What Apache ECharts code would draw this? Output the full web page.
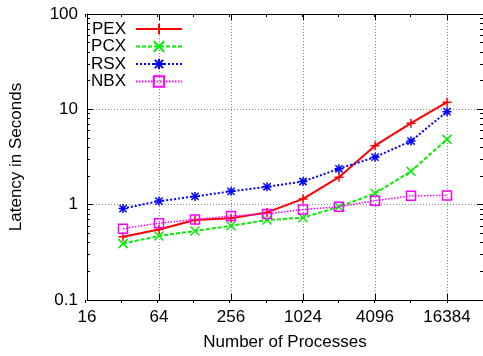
<!DOCTYPE html>
<html>
<head>
<meta charset="utf-8">
<script src="https://cdn.jsdelivr.net/npm/echarts@6/dist/echarts.min.js"></script>
<style>
html,body{margin:0;padding:0;background:#fff;}
#chart{width:483px;height:356px;}
</style>
</head>
<body>
<div id="chart"></div>
<script>
// ---- data ----
const xTicks = ['16','32','64','128','256','512','1024','2048','4096','8192','16384','32768'];
const processes = ['32','64','128','256','512','1024','2048','4096','8192','16384'];
const seriesNames = ['PEX','PCX','RSX','NBX'];
const pex = [0.46, 0.55, 0.69, 0.72, 0.83, 1.15, 1.94, 4.16, 7.16, 11.9];
const pcx = [0.39, 0.47, 0.53, 0.60, 0.69, 0.73, 0.95, 1.31, 2.24, 4.84];
const rsx = [0.91, 1.09, 1.22, 1.38, 1.54, 1.75, 2.38, 3.15, 4.65, 9.46];
const nbx = [0.56, 0.64, 0.70, 0.76, 0.80, 0.89, 0.95, 1.10, 1.24, 1.25];
const yTicks = [0.1, 1, 10, 100];

// ---- styles ----
const FONT = "'Liberation Sans', Arial, Helvetica, sans-serif";
const FS = 17;
const colors = ['#ff0000', '#00ee00', '#0000ff', '#ff00ff'];
const symbols = [
  'path://M0,5L10,5M5,0L5,10',
  'path://M0,0L10,10M0,10L10,0',
  'path://M0,5L10,5M5,0L5,10M1,1L9,9M1,9L9,1',
  'rect'
];
const lineTypes = ['solid', [4, 2], [2, 2], [1.5, 1.5]];
const lineWidths = [2, 2, 2, 1.5];
const values = [pex, pcx, rsx, nbx];
const rowY = [27, 44.5, 62, 79.5];

const isMajor = (i) => i % 2 === 0;
const gridLine = { show: true, lineStyle: { color: '#888', width: 1, type: [1, 2] } };
const gridBox = { left: 85, top: 14, width: 399, height: 289, containLabel: false };

function catAxis(pos, gridIndex, extra) {
  return Object.assign({
    type: 'category', data: xTicks, boundaryGap: false, position: pos, gridIndex: gridIndex,
    axisLine: { show: false }, axisLabel: { show: false },
    axisTick: { show: false }, splitLine: { show: false }
  }, extra);
}

const xAxis = [
  catAxis('bottom', 0, {
    axisLine: { show: true, onZero: false, lineStyle: { color: '#000', width: 1 } },
    axisLabel: { show: true, interval: (i) => isMajor(i) && i < xTicks.length - 1, color: '#000', fontSize: FS, fontFamily: FONT, margin: 9 },
    axisTick: { show: true, inside: true, length: 6, interval: (i) => isMajor(i), lineStyle: { color: '#000' } },
    splitLine: Object.assign({ interval: (i) => isMajor(i) }, gridLine),
    name: 'Number of Processes', nameLocation: 'middle', nameGap: 34,
    nameTextStyle: { color: '#000', fontSize: FS, fontFamily: FONT }
  }),
  catAxis('top', 0, {
    axisLine: { show: true, onZero: false, lineStyle: { color: '#000', width: 1 } },
    axisTick: { show: true, inside: true, length: 6, interval: (i) => isMajor(i), lineStyle: { color: '#000' } }
  }),
  catAxis('bottom', 1, {
    axisTick: { show: true, inside: true, length: 3, interval: 0, lineStyle: { color: '#000' } }
  }),
  catAxis('top', 1, {
    axisTick: { show: true, inside: true, length: 3, interval: 0, lineStyle: { color: '#000' } }
  })
];

function logAxis(pos, extra) {
  return Object.assign({
    type: 'log', logBase: 10, min: yTicks[0], max: yTicks[yTicks.length - 1], position: pos, gridIndex: 0,
    axisLine: { show: true, onZero: false, lineStyle: { color: '#000', width: 1 } },
    axisTick: { show: true, inside: true, length: 6, lineStyle: { color: '#000' } },
    minorTick: { show: true, splitNumber: 9, length: 3, lineStyle: { color: '#000' } },
    axisLabel: { show: false },
    splitLine: { show: false }
  }, extra);
}

const yAxis = [
  logAxis('left', {
    axisLabel: { show: true, color: '#000', fontSize: FS, fontFamily: FONT, margin: 9 },
    splitLine: gridLine,
    name: 'Latency in Seconds', nameLocation: 'middle', nameGap: 62,
    nameTextStyle: { color: '#000', fontSize: FS, fontFamily: FONT }
  }),
  logAxis('right', {}),
  { type: 'log', gridIndex: 1, min: yTicks[0], max: yTicks[yTicks.length - 1], show: false }
];

const series = seriesNames.map((name, k) => ({
  name: name,
  type: 'line',
  xAxisIndex: 0, yAxisIndex: 0,
  data: processes.map((p, i) => [p, values[k][i]]),
  symbol: symbols[k],
  symbolSize: 9,
  showAllSymbol: true,
  lineStyle: { color: colors[k], width: lineWidths[k], type: lineTypes[k] },
  itemStyle: { color: 'rgba(0,0,0,0)', borderColor: colors[k], borderWidth: 1.5 },
  emphasis: { disabled: true },
  z: 2 + k
}));

const legend = seriesNames.map((name, k) => ({
  data: [name],
  orient: 'vertical',
  right: 300,
  top: rowY[k] - 6.5,
  align: 'right',
  padding: 0,
  itemWidth: 46,
  itemHeight: 13,
  selectedMode: false,
  textStyle: { color: '#000', fontSize: FS, fontFamily: FONT, padding: [0, 5, 0, 0] }
}));

const chart = echarts.init(document.getElementById('chart'), null, { renderer: 'canvas' });
chart.setOption({
  animation: false,
  backgroundColor: '#fff',
  grid: [Object.assign({}, gridBox), Object.assign({}, gridBox)],
  legend: legend,
  xAxis: xAxis,
  yAxis: yAxis,
  series: series
});
</script>
</body>
</html>
